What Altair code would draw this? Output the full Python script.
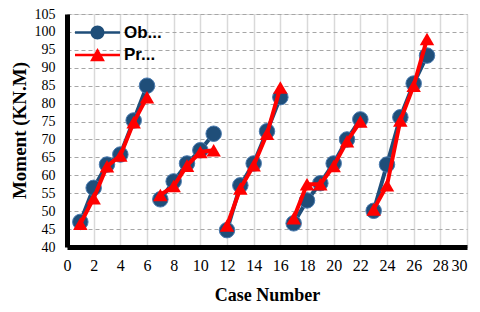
import altair as alt
import pandas as pd

# ---- data ----
case = list(range(1, 28))
group = [1] * 6 + [2] * 5 + [3] * 5 + [4] * 6 + [5] * 5
observed = [47, 56.5, 63, 65.8, 75.3, 85,
            53.3, 58.3, 63.3, 67, 71.6,
            44.7, 57.2, 63.3, 72.3, 81.8,
            46.6, 53, 57.8, 63.3, 70, 75.6,
            50.1, 63, 76.2, 85.6, 93.4]
predicted = [46.5, 53.6, 62.5, 65.5, 74.8, 81.8,
             54.5, 57, 62.7, 66.5, 67,
             46, 56.3, 62.8, 71.6, 84.5,
             48, 57.5, 57.5, 62.6, 69.5, 75,
             50.5, 57.2, 75.3, 85, 98]
series_names = ["Ob...", "Pr..."]
series_colors = ["#1f4e79", "#ff0000"]
x_ticks = list(range(0, 31, 2))
y_ticks = list(range(40, 106, 5))

rows = []
for c, g, o, p in zip(case, group, observed, predicted):
    rows.append({"case": c, "group": g, "series": series_names[0], "value": o})
    rows.append({"case": c, "group": g, "series": series_names[1], "value": p})
df = pd.DataFrame(rows)

# legend symbols: line with marker (custom paths)
legend_paths = [
    "M-2,-0.11 L2,-0.11 L2,0.11 L-2,0.11 Z "
    "M0.62,0 A0.62,0.62 0 1,1 -0.62,0 A0.62,0.62 0 1,1 0.62,0 Z",
    "M-2,-0.11 L2,-0.11 L2,0.11 L-2,0.11 Z "
    "M0,-0.62 L0.66,0.56 L-0.66,0.56 Z",
]

x_enc = alt.X(
    "case:Q",
    scale=alt.Scale(domain=[0, 30], nice=False, zero=False),
    axis=alt.Axis(
        values=x_ticks, title="Case Number", grid=True,
        gridColor="#d9d9d9", gridWidth=1.5, domainColor="black", domainWidth=5,
        ticks=False, labelPadding=10, labelFont="Liberation Serif", labelFontSize=16,
        labelColor="black", titleFont="Liberation Serif", titleFontSize=18,
        titleFontWeight="bold", titleColor="black", titleX=200, titleY=57,
        titleBaseline="bottom", labelFlush=False, labelOverlap=False,
        labelAlign=alt.ExprRef("datum.value == 30 ? 'right' : 'center'"),
    ),
)
y_enc = alt.Y(
    "value:Q",
    scale=alt.Scale(domain=[40, 105], nice=False, zero=False),
    axis=alt.Axis(
        values=y_ticks, title="Moment (KN.M)", grid=True,
        gridColor="#a6a6a6", gridWidth=1.2, gridDash=[4, 3], domainColor="black",
        domainWidth=5, ticks=False, labelPadding=12, labelFont="Liberation Serif",
        labelFontSize=14, labelColor="black", titleFont="Liberation Serif",
        titleFontSize=19, titleFontWeight="bold", titleColor="black",
        titleX=-48, titleY=116, titleAngle=270, titleAlign="center",
        titleBaseline="middle", labelFlush=False, labelOverlap=False,
    ),
)

base = alt.Chart(df).encode(x=x_enc, y=y_enc)
obs = base.transform_filter(alt.datum.series == series_names[0])
pre = base.transform_filter(alt.datum.series == series_names[1])

obs_line = obs.mark_line(color=series_colors[0], strokeWidth=4).encode(detail="group:N")
obs_pts = obs.mark_point(shape="circle", filled=True, opacity=1, size=240,
                         color=series_colors[0], stroke="#4a7bb0", strokeWidth=1)
pre_line = pre.mark_line(color=series_colors[1], strokeWidth=4).encode(detail="group:N")
pre_pts = pre.mark_point(shape="triangle-up", filled=True, opacity=1, size=210,
                         color=series_colors[1])

legend_layer = base.transform_filter("datum.case < 0").mark_point(
    filled=True, opacity=1).encode(
    color=alt.Color("series:N",
                    scale=alt.Scale(domain=series_names, range=series_colors),
                    legend=alt.Legend(
                        title=None, orient="none", legendX=19, legendY=7,
                        symbolSize=506, symbolOpacity=1, symbolStrokeWidth=0,
                        labelFont="Liberation Sans", labelFontSize=17,
                        labelFontWeight="bold", labelColor="black",
                        labelOffset=15, rowPadding=2.5, padding=0,
                    )),
    shape=alt.Shape("series:N",
                    scale=alt.Scale(domain=series_names, range=legend_paths)),
)

chart = alt.layer(obs_line, obs_pts, pre_line, pre_pts, legend_layer).properties(
    width=400, height=233,
    autosize=alt.AutoSizeParams(type="none"),
    padding={"left": 59, "top": 6, "right": 5, "bottom": 57},
).configure_view(stroke="black", strokeWidth=3).configure(background="white")

chart.save("out.html", embed_options={"renderer": "svg", "actions": False})
